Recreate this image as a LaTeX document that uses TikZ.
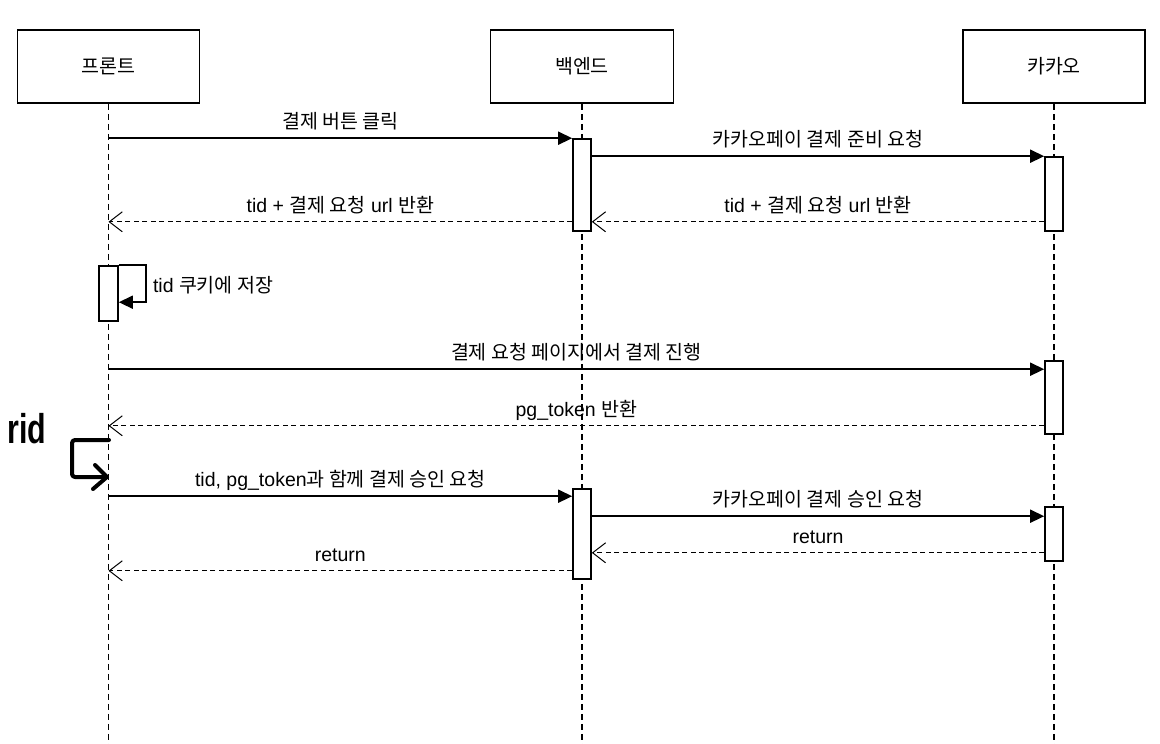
\documentclass[tikz,border=0pt]{standalone}
\usepackage{fontspec}
\setmainfont{Liberation Sans}
\newfontfamily\krfont{Noto Sans CJK KR}
\usetikzlibrary{arrows.meta,calc}
\newcommand\K[1]{{\krfont #1}}
\begin{document}
\begin{tikzpicture}[x=1pt,y=-1pt,
  font=\fontsize{19.5}{22}\selectfont,
  actor/.style={draw, line width=1.8pt, minimum width=182pt, minimum height=73pt, inner sep=0pt},
  act/.style={draw, fill=white, line width=1.6pt, minimum width=18pt, inner sep=0pt},
  life/.style={line width=1.6pt, dash pattern=on 6pt off 4pt},
  msg/.style={line width=1.6pt, -{Triangle[length=14pt,width=13pt]}},
  ret/.style={line width=1.3pt, dash pattern=on 5pt off 3.5pt, -{Straight Barb[length=13pt,width=20pt,line width=1pt]}},
  lab/.style={midway, above=4pt, inner sep=0pt, text depth=5pt},
  hand/.style={line width=4pt, line cap=round, line join=round, rounded corners=3pt}]
\useasboundingbox (0,0) rectangle (1160,744);
\fill[white] (0,0) rectangle (1160,744);
% actors
\node[actor] (F) at (108.5,66.5) {\K{프론트}};
\node[actor, minimum width=183pt] (B) at (582,66.5) {\K{백엔드}};
\node[actor] (Kk) at (1054,66.5) {\K{카카오}};
\coordinate (Fb) at (108.5,744);
\coordinate (Bb) at (582,744);
\coordinate (Kb) at (1054,744);
\draw[life] (F.south) -- (Fb);
\draw[life] (B.south) -- (Bb);
\draw[life] (Kk.south) -- (Kb);
% activations
\node[act, minimum height=92pt] (B1) at (582,185) {};
\node[act, minimum height=74pt] (K1) at (1054,194) {};
\node[act, minimum height=55pt, minimum width=19pt] (F1) at (108.5,293.5) {};
\node[act, minimum height=73pt] (K2) at (1054,397.5) {};
\node[act, minimum height=90pt] (B2) at (582,534) {};
\node[act, minimum height=54pt] (K3) at (1054,534) {};
% helper coordinates
\coordinate (k1r) at ([yshift=10pt]K1.south west);
\coordinate (k2a) at ([yshift=-9pt]K2.north west);
\coordinate (k2b) at ([yshift=9pt]K2.south west);
\coordinate (b2a) at ([yshift=-8pt]B2.north west);
\coordinate (k3a) at ([yshift=-10pt]K3.north west);
\coordinate (k3b) at ([yshift=9pt]K3.south west);
\coordinate (b2b) at ([yshift=9pt]B2.south west);
% messages
\draw[msg] (F |- B1.north west) -- (B1.north west) node[lab] {\K{결제 버튼 클릭}};
\draw[msg] (B1.east |- K1.north west) -- (K1.north west) node[lab] {\K{카카오페이 결제 준비 요청}};
\draw[ret] (k1r) -- (k1r -| B1.east) node[lab] {tid + \K{결제 요청} url \K{반환}};
\draw[ret] (B1.west |- k1r) -- (F |- k1r) node[lab] {tid + \K{결제 요청} url \K{반환}};
\draw[msg] (F1.north east) -- ++(27,0) -- ++(0,37) -- ++(-27,0);
\node[anchor=base west, inner sep=0pt] (selflab) at ([xshift=34pt,yshift=-27pt]F1.north east) {tid \K{쿠키에 저장}};
\draw[msg] (F |- k2a) -- (k2a) node[lab] {\K{결제 요청 페이지에서 결제 진행}};
\draw[ret] (k2b) -- (F |- k2b) node[lab] {pg\_token \K{반환}};
\draw[msg] (F |- b2a) -- (b2a) node[lab] {tid, pg\_token\K{과 함께 결제 승인 요청}};
\draw[msg] (B2.east |- k3a) -- (k3a) node[lab] {\K{카카오페이 결제 승인 요청}};
\draw[ret] (k3b) -- (B2.east |- k3b) node[lab] {return};
\draw[ret] (b2b) -- (F |- b2b) node[lab] {return};
% handwritten annotation
\node[anchor=base west, inner sep=0pt] (rid) at (7,443) {\scalebox{0.95}[1.3]{\fontsize{32}{32}\selectfont\bfseries rid}};
\coordinate (h1) at (109,440);
\coordinate (h2) at (72,440);
\coordinate (h3) at (72,477);
\coordinate (h4) at (107,477);
\coordinate (h5) at (95,465);
\coordinate (h6) at (93,489);
\draw[hand] (h1) -- (h2) -- (h3) -- (h4);
\draw[hand, rounded corners=0pt] (h5) -- (h4) -- (h6);
\end{tikzpicture}
\end{document}
